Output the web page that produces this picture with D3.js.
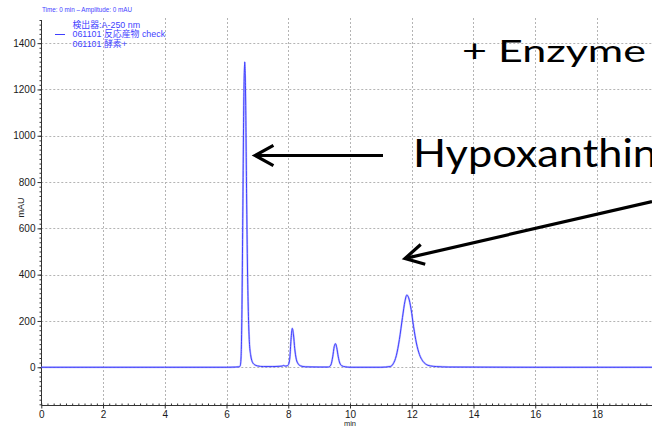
<!DOCTYPE html>
<html><head><meta charset="utf-8">
<script src="https://cdn.jsdelivr.net/npm/d3@7"></script>
<style>
html,body{margin:0;padding:0;background:#fff;overflow:hidden;}
svg{display:block;}
</style></head>
<body>
<svg id="chart" width="652" height="427"></svg>
<script>
// ---- data ----
const timeMin = [0, 2, 4, 6.00, 6.30, 6.40, 6.44, 6.47, 6.50, 6.53, 6.56, 6.59, 6.62, 6.65, 6.68, 6.71, 6.74, 6.78, 6.83, 6.90, 7.00, 7.20, 7.50, 7.70, 7.80, 7.85, 7.90, 7.96, 8.00, 8.05, 8.09, 8.13, 8.17, 8.21, 8.26, 8.32, 8.40, 8.55, 9.00, 9.30, 9.38, 9.44, 9.49, 9.53, 9.57, 9.62, 9.67, 9.74, 9.85, 10.00, 11.00, 11.30, 11.40, 11.50, 11.60, 11.70, 11.78, 11.84, 11.90, 11.98, 12.06, 12.15, 12.25, 12.35, 12.45, 12.60, 12.80, 13.20, 16, 20];
const signalMAU = [0, 0, 0, 0, 1, 2, 5, 40, 250, 700, 1150, 1319, 1150, 750, 420, 220, 110, 55, 25, 12, 6, 3, 3, 4, 5, 8, 5, 6, 10, 40, 120, 168, 140, 80, 35, 15, 6, 2, 1, 1, 10, 45, 90, 102, 85, 45, 18, 6, 2, 0, 0, 3, 15, 50, 120, 215, 285, 312, 300, 250, 175, 105, 55, 28, 14, 6, 3, 1, 0, 0];
const xTicks = [0, 2, 4, 6, 8, 10, 12, 14, 16, 18, 20];
const xTickLabels = [0, 2, 4, 6, 8, 10, 12, 14, 16, 18];
const yTicks = [0, 200, 400, 600, 800, 1000, 1200, 1400];
const headerText = "Time: 0 min – Amplitude: 0 mAU";
const legendLines = ["検出器:A-250 nm", "061101 反応産物 check", "061101 酵素+"];
const annotations = ["+ Enzyme", "Hypoxanthin"];

const svg = d3.select("#chart");
const blue = "#3f3fff";
const x = d3.scaleLinear().domain([0, 20]).range([41.3, 658.7]);
const y = d3.scaleLinear().domain([-163, 1500]).range([405, 20]);

// grid
const grid = svg.append("g").attr("stroke", "#b4b4b4").attr("stroke-width", 1).attr("stroke-dasharray", "2,2");
grid.selectAll("line.v").data(xTicks.filter(d => d > 0)).join("line")
  .attr("x1", d => Math.round(x(d)) + 0.5).attr("x2", d => Math.round(x(d)) + 0.5)
  .attr("y1", 18).attr("y2", 405);
grid.selectAll("line.h").data(yTicks).join("line")
  .attr("x1", 41.3).attr("x2", 652)
  .attr("y1", d => Math.round(y(d)) + 0.5).attr("y2", d => Math.round(y(d)) + 0.5);

// axes
const axisFont = "'Liberation Sans', Arial, sans-serif";
const yMinor = d3.range(-160, 1501, 20);
const gyMinor = svg.append("g").attr("transform", "translate(41.5,0)")
  .call(d3.axisLeft(y).tickValues(yMinor).tickSize(2).tickFormat(""));
gyMinor.select(".domain").remove();
gyMinor.selectAll("line").attr("stroke", "#333");
const gy = svg.append("g").attr("transform", "translate(41.5,0)")
  .call(d3.axisLeft(y).tickValues(yTicks).tickSize(4).tickPadding(2).tickFormat(d3.format("d")));
gy.select(".domain").attr("d", `M0,${y(1500)}V${y(-163)}`).attr("stroke", "#333");
gy.selectAll(".tick line").attr("stroke", "#333");
gy.selectAll("text").attr("font-family", axisFont).attr("font-size", 10).attr("fill", "#1a1a1a");

const xMinor = d3.range(0, 20.01, 0.2);
const gxMinor = svg.append("g").attr("transform", "translate(0,405.5)")
  .call(d3.axisTop(x).tickValues(xMinor).tickSize(2).tickFormat(""));
gxMinor.select(".domain").remove();
gxMinor.selectAll("line").attr("stroke", "#333");
const gxMajor = svg.append("g").attr("transform", "translate(0,405.5)")
  .call(d3.axisBottom(x).tickValues(xTicks).tickSize(3).tickFormat(""));
gxMajor.select(".domain").attr("d", `M${x(0)},0H652`).attr("stroke", "#333");
gxMajor.selectAll(".tick line").attr("stroke", "#333");
const gx = svg.append("g").attr("transform", "translate(0,405.5)")
  .call(d3.axisBottom(x).tickValues(xTickLabels).tickSize(0).tickPadding(5));
gx.select(".domain").remove();
gx.selectAll("text").attr("font-family", axisFont).attr("font-size", 10).attr("fill", "#1a1a1a");

svg.append("text").attr("x", x(10)).attr("y", 426).attr("text-anchor", "middle")
  .attr("font-family", axisFont).attr("font-size", 7.5).attr("fill", "#222").text("min");
svg.append("text").attr("transform", `translate(24,${y(690)}) rotate(-90)`).attr("text-anchor", "middle")
  .attr("font-family", axisFont).attr("font-size", 9).attr("fill", "#222").text("mAU");

// trace
const pts = timeMin.map((t, i) => [t, signalMAU[i]]);
const line = d3.line().x(d => x(d[0])).y(d => y(d[1])).curve(d3.curveMonotoneX);
svg.append("path").datum(pts).attr("d", line).attr("fill", "none")
  .attr("stroke", "#8a8aff").attr("stroke-width", 2).attr("stroke-opacity", 0.55);
svg.append("path").datum(pts).attr("d", line).attr("fill", "none")
  .attr("stroke", blue).attr("stroke-width", 1);

// header + legend
svg.append("text").attr("x", 42).attr("y", 11.5).attr("font-family", axisFont)
  .attr("font-size", 6.3).attr("fill", blue).text(headerText);
const legFont = "'Liberation Sans', 'Noto Sans CJK JP', sans-serif";
svg.selectAll("text.leg").data(legendLines).join("text").attr("class", "leg")
  .attr("x", 72.5).attr("y", (d, i) => 27.5 + i * 9.6)
  .attr("font-family", legFont).attr("font-size", 8.9).attr("fill", blue).text(d => d);
svg.append("line").attr("x1", 55).attr("x2", 65).attr("y1", 34.5).attr("y2", 34.5)
  .attr("stroke", blue).attr("stroke-width", 1);

// annotations
const annFont = "Lato, 'Open Sans', sans-serif";
svg.append("text").attr("x", 462).attr("y", 62).attr("font-family", annFont)
  .attr("font-size", 31).attr("fill", "#000").attr("textLength", 184)
  .attr("lengthAdjust", "spacingAndGlyphs").text(annotations[0]);
svg.append("text").attr("x", 413).attr("y", 167).attr("font-family", annFont)
  .attr("font-size", 38).attr("fill", "#000").attr("textLength", 244)
  .attr("lengthAdjust", "spacingAndGlyphs").text(annotations[1]);

// arrows
const arrows = [
  {from: [383, 155.5], to: [255, 155.5]},
  {from: [652, 201.5], to: [405, 258.5]}
];
arrows.forEach(a => {
  const [x1, y1] = a.from, [x2, y2] = a.to;
  const ang = Math.atan2(y1 - y2, x1 - x2);
  const L = 21, W = 0.5;
  const p1 = [x2 + L * Math.cos(ang + W), y2 + L * Math.sin(ang + W)];
  const p2 = [x2 + L * Math.cos(ang - W), y2 + L * Math.sin(ang - W)];
  svg.append("path").attr("d", `M${x1},${y1}L${x2 + 1.5 * Math.cos(ang)},${y2 + 1.5 * Math.sin(ang)}`)
    .attr("stroke", "#000").attr("stroke-width", 3.2).attr("fill", "none");
  svg.append("path").attr("d", `M${p1[0]},${p1[1]}L${x2},${y2}L${p2[0]},${p2[1]}`)
    .attr("stroke", "#000").attr("stroke-width", 3.2).attr("fill", "none")
    .attr("stroke-linejoin", "miter");
});
</script>
</body></html>
